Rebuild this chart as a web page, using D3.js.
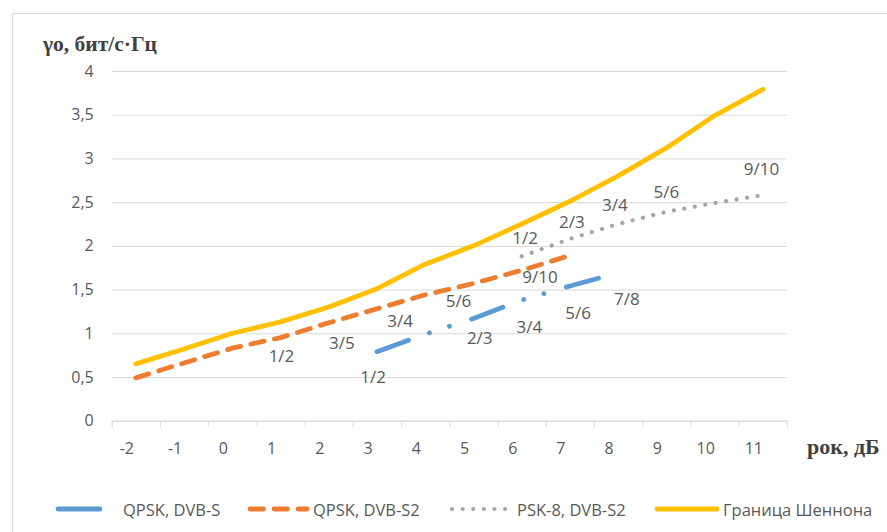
<!DOCTYPE html>
<html>
<head>
<meta charset="utf-8">
<script src="https://cdn.jsdelivr.net/npm/d3@7"></script>
<style>
  body { margin: 0; background: #fff; }
  svg { display: block; }
</style>
</head>
<body>
<div id="chart"></div>
<script>
// категории оси X (дБ)
const categories = [-2, -1, 0, 1, 2, 3, 4, 5, 6, 7, 8, 9, 10, 11];
const yTicks = [0, 0.5, 1, 1.5, 2, 2.5, 3, 3.5, 4];
const yTickLabels = ["0", "0,5", "1", "1,5", "2", "2,5", "3", "3,5", "4"];

// ряды
const qpskSX = [3, 4, 5, 6, 7, 8];
const qpskS = [0.79, 0.99, 1.17, 1.38, 1.54, 1.69];
const qpskS2X = [-2, -1, 0, 1, 2, 3, 4, 5, 6, 7];
const qpskS2 = [0.49, 0.66, 0.83, 0.95, 1.12, 1.28, 1.44, 1.57, 1.72, 1.89];
const psk8X = [6, 7, 8, 9, 10, 11];
const psk8 = [1.88, 2.08, 2.25, 2.39, 2.49, 2.58];
const shannonX = categories;
const shannon = [0.65, 0.82, 1.0, 1.13, 1.30, 1.51, 1.79, 2.0, 2.25, 2.51, 2.80, 3.12, 3.49, 3.79];

// подписи кодовых скоростей (x, y в единицах осей)
const qpskSLabels = ["1/2", "2/3", "3/4", "5/6", "7/8"];
const qpskSLabelX = [2.92, 5.13, 6.16, 7.17, 8.18];
const qpskSLabelY = [0.50, 0.95, 1.08, 1.24, 1.40];
const qpskS2Labels = ["1/2", "3/5", "3/4", "5/6", "9/10"];
const qpskS2LabelX = [1.02, 2.27, 3.48, 4.69, 6.38];
const qpskS2LabelY = [0.75, 0.90, 1.15, 1.38, 1.65];
const psk8Labels = ["1/2", "2/3", "3/4", "5/6", "9/10"];
const psk8LabelX = [6.07, 7.04, 7.93, 9.0, 10.97];
const psk8LabelY = [2.09, 2.28, 2.47, 2.62, 2.89];

const seriesNames = ["QPSK, DVB-S", "QPSK, DVB-S2", "PSK-8, DVB-S2", "Граница Шеннона"];

const W = 887, H = 532;
const svg = d3.select("#chart").append("svg").attr("width", W).attr("height", H);
const font = "'Open Sans', sans-serif";
const textCol = "#595959", gridCol = "#d9d9d9";

// рамка области диаграммы
svg.append("rect").attr("x", 12.5).attr("y", 13.5).attr("width", 1000).attr("height", 700)
    .attr("fill", "none").attr("stroke", gridCol);

const x = d3.scaleLinear().domain([-2.5, 11.5]).range([111.7, 787]);
const y = d3.scaleLinear().domain([0, 4]).range([420.7, 71]);

// сетка + подписи Y
const yAxis = svg.append("g").attr("transform", `translate(${x(-2.5)},0)`)
    .call(d3.axisLeft(y).tickValues(yTicks).tickSize(-(x(11.5) - x(-2.5))).tickPadding(18)
        .tickFormat((d, i) => yTickLabels[i]));
yAxis.select(".domain").remove();
yAxis.selectAll("line").attr("stroke", gridCol).attr("stroke-width", 1);
yAxis.selectAll("text").attr("fill", textCol).style("font-family", font).style("font-size", "16px");

// ось X
const xAxis = svg.append("g").attr("transform", `translate(0,${y(0)})`)
    .call(d3.axisBottom(x).tickValues(categories.map(c => c - 0.5).concat([11.5])).tickSize(6).tickFormat(""));
xAxis.select(".domain").attr("stroke", gridCol);
xAxis.selectAll("line").attr("stroke", gridCol);
svg.selectAll(".xlab").data(categories).join("text")
    .attr("x", d => x(d) - 9).attr("y", y(0) + 27)
    .attr("text-anchor", "middle").attr("dominant-baseline", "central")
    .attr("fill", textCol).style("font-family", font).style("font-size", "16px")
    .text(d => d);

// заголовки осей
svg.append("text").attr("x", 43).attr("y", 51)
    .attr("fill", "#404040").style("font-family", "'Liberation Serif', serif")
    .style("font-weight", "bold").style("font-size", "21.5px").text("γo, бит/с·Гц");
svg.append("text").attr("x", 807).attr("y", 454)
    .attr("fill", "#404040").style("font-family", "'Liberation Serif', serif")
    .style("font-weight", "bold").style("font-size", "22px").text("рок, дБ");

const line = d3.line().x(d => x(d[0])).y(d => y(d[1]));

const series = [
  {xs: qpskSX, ys: qpskS, color: "#5b9bd5", dash: "33.5 22.25 0.01 21 0.01 23.25", width: 4.8},
  {xs: qpskS2X, ys: qpskS2, color: "#ed7d31", dash: "13.5 10.5", width: 4.8},
  {xs: psk8X, ys: psk8, color: "#a5a5a5", dash: "0.01 10.6", width: 4.2},
  {xs: shannonX, ys: shannon, color: "#ffc000", dash: null, width: 4.8}
];

svg.selectAll(".series").data(series).join("path")
    .attr("d", s => line(s.xs.map((v, i) => [v, s.ys[i]])))
    .attr("fill", "none").attr("stroke", s => s.color).attr("stroke-width", s => s.width)
    .attr("stroke-linecap", "round").attr("stroke-linejoin", "round")
    .attr("stroke-dasharray", s => s.dash);

// подписи точек
const labelSets = [
  [qpskSLabels, qpskSLabelX, qpskSLabelY],
  [qpskS2Labels, qpskS2LabelX, qpskS2LabelY],
  [psk8Labels, psk8LabelX, psk8LabelY]
];
labelSets.forEach(([t, xs, ys]) => {
  svg.append("g").selectAll("text").data(t).join("text")
      .attr("x", (d, i) => x(xs[i])).attr("y", (d, i) => y(ys[i]))
      .attr("text-anchor", "middle").attr("dominant-baseline", "central")
      .attr("fill", textCol).style("font-family", font).style("font-size", "17px")
      .text(d => d);
});

// легенда
const legendX = [58, 250, 452, 657];
const legendLen = [42, 57, 58, 60];
const legendTextX = [123, 313, 517, 723];
const ly = 509;
const lg = svg.append("g");
series.forEach((s, i) => {
  lg.append("line").attr("x1", legendX[i]).attr("x2", legendX[i] + legendLen[i])
      .attr("y1", ly).attr("y2", ly)
      .attr("stroke", s.color).attr("stroke-width", s.width)
      .attr("stroke-linecap", "round").attr("stroke-dasharray", i === 0 ? null : s.dash);
  lg.append("text").attr("x", legendTextX[i]).attr("y", ly)
      .attr("dominant-baseline", "central").attr("fill", textCol)
      .style("font-family", font).style("font-size", "16.5px").text(seriesNames[i]);
});
</script>
</body>
</html>
